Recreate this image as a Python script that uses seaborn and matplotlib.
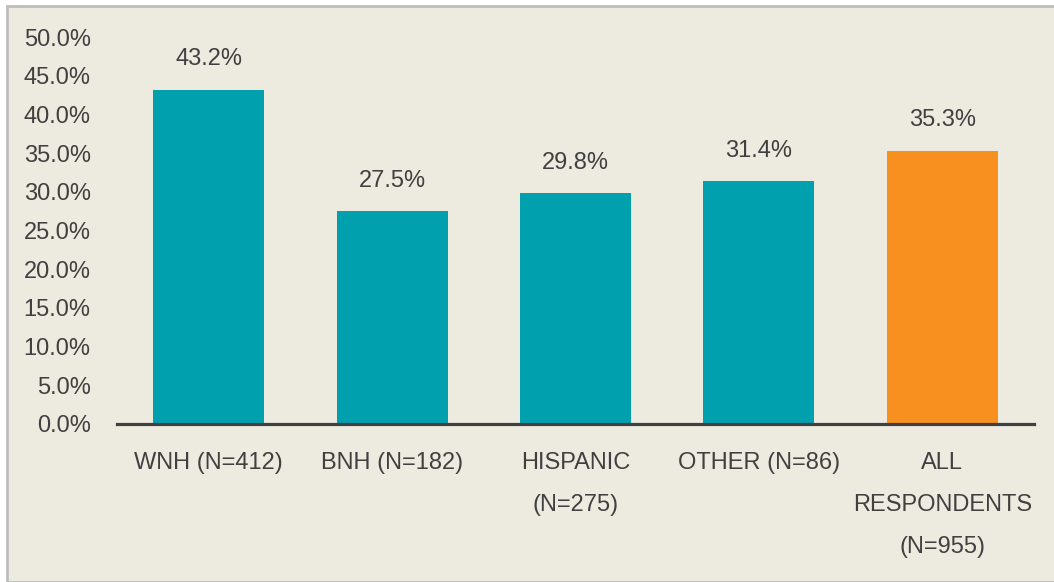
import matplotlib
matplotlib.use("Agg")
import matplotlib.pyplot as plt
import matplotlib.patches as mpatches
import seaborn as sns
import pandas as pd

# data
groups = ["WNH (N=412)", "BNH (N=182)", "HISPANIC\n(N=275)", "OTHER (N=86)", "ALL\nRESPONDENTS\n(N=955)"]
values = [43.2, 27.5, 29.8, 31.4, 35.3]
colors = ["#00A0AF", "#00A0AF", "#00A0AF", "#00A0AF", "#F7901E"]
yticks = [0, 5, 10, 15, 20, 25, 30, 35, 40, 45, 50]

df = pd.DataFrame({"group": groups, "value": values})

bg = "#EDEBE0"
txt = "#404040"

sns.set_theme(style="white")
plt.rcParams["font.family"] = ["Liberation Sans", "DejaVu Sans"]

fig = plt.figure(figsize=(10.54, 5.82), dpi=100)
fig.patch.set_facecolor("white")
# framed background panel
fig.patches.append(mpatches.Rectangle((7 / 1054, 0), 1.0, 1 - 6 / 582, transform=fig.transFigure,
                                      facecolor=bg, edgecolor="#BDBDBD", linewidth=2, zorder=-5))

ax = fig.add_axes([117 / 1054, 1 - 424 / 582, (1034 - 117) / 1054, (424 - 37) / 582])
ax.set_zorder(2)
ax.set_facecolor("none")

sns.barplot(data=df, x="group", y="value", hue="group", palette=colors, legend=False,
            width=0.605, saturation=1, linewidth=0, ax=ax)

for i, v in enumerate(values):
    ax.annotate(f"{v:.1f}%", (i, v), xytext=(0, 14), textcoords="offset points",
                ha="center", va="bottom", fontsize=17, color=txt)

ax.set_xlim(-0.5, 4.5)
ax.set_ylim(0, 50)
ax.set_yticks(yticks)
ax.set_yticklabels([f"{t:.1f}%" for t in yticks])
ax.set_xlabel("")
ax.set_ylabel("")
ax.tick_params(axis="y", length=0, pad=19, labelsize=17, labelcolor=txt)
ax.tick_params(axis="x", length=0, pad=20.5, labelsize=17, labelcolor=txt)
for lab in ax.get_xticklabels():
    lab.set_linespacing(2.15)
    lab.set_va("top")

for s in ["top", "right", "left"]:
    ax.spines[s].set_visible(False)
ax.spines["bottom"].set_color(txt)
ax.spines["bottom"].set_linewidth(2.3)

fig.savefig("out.png", dpi=100, facecolor=fig.get_facecolor())
